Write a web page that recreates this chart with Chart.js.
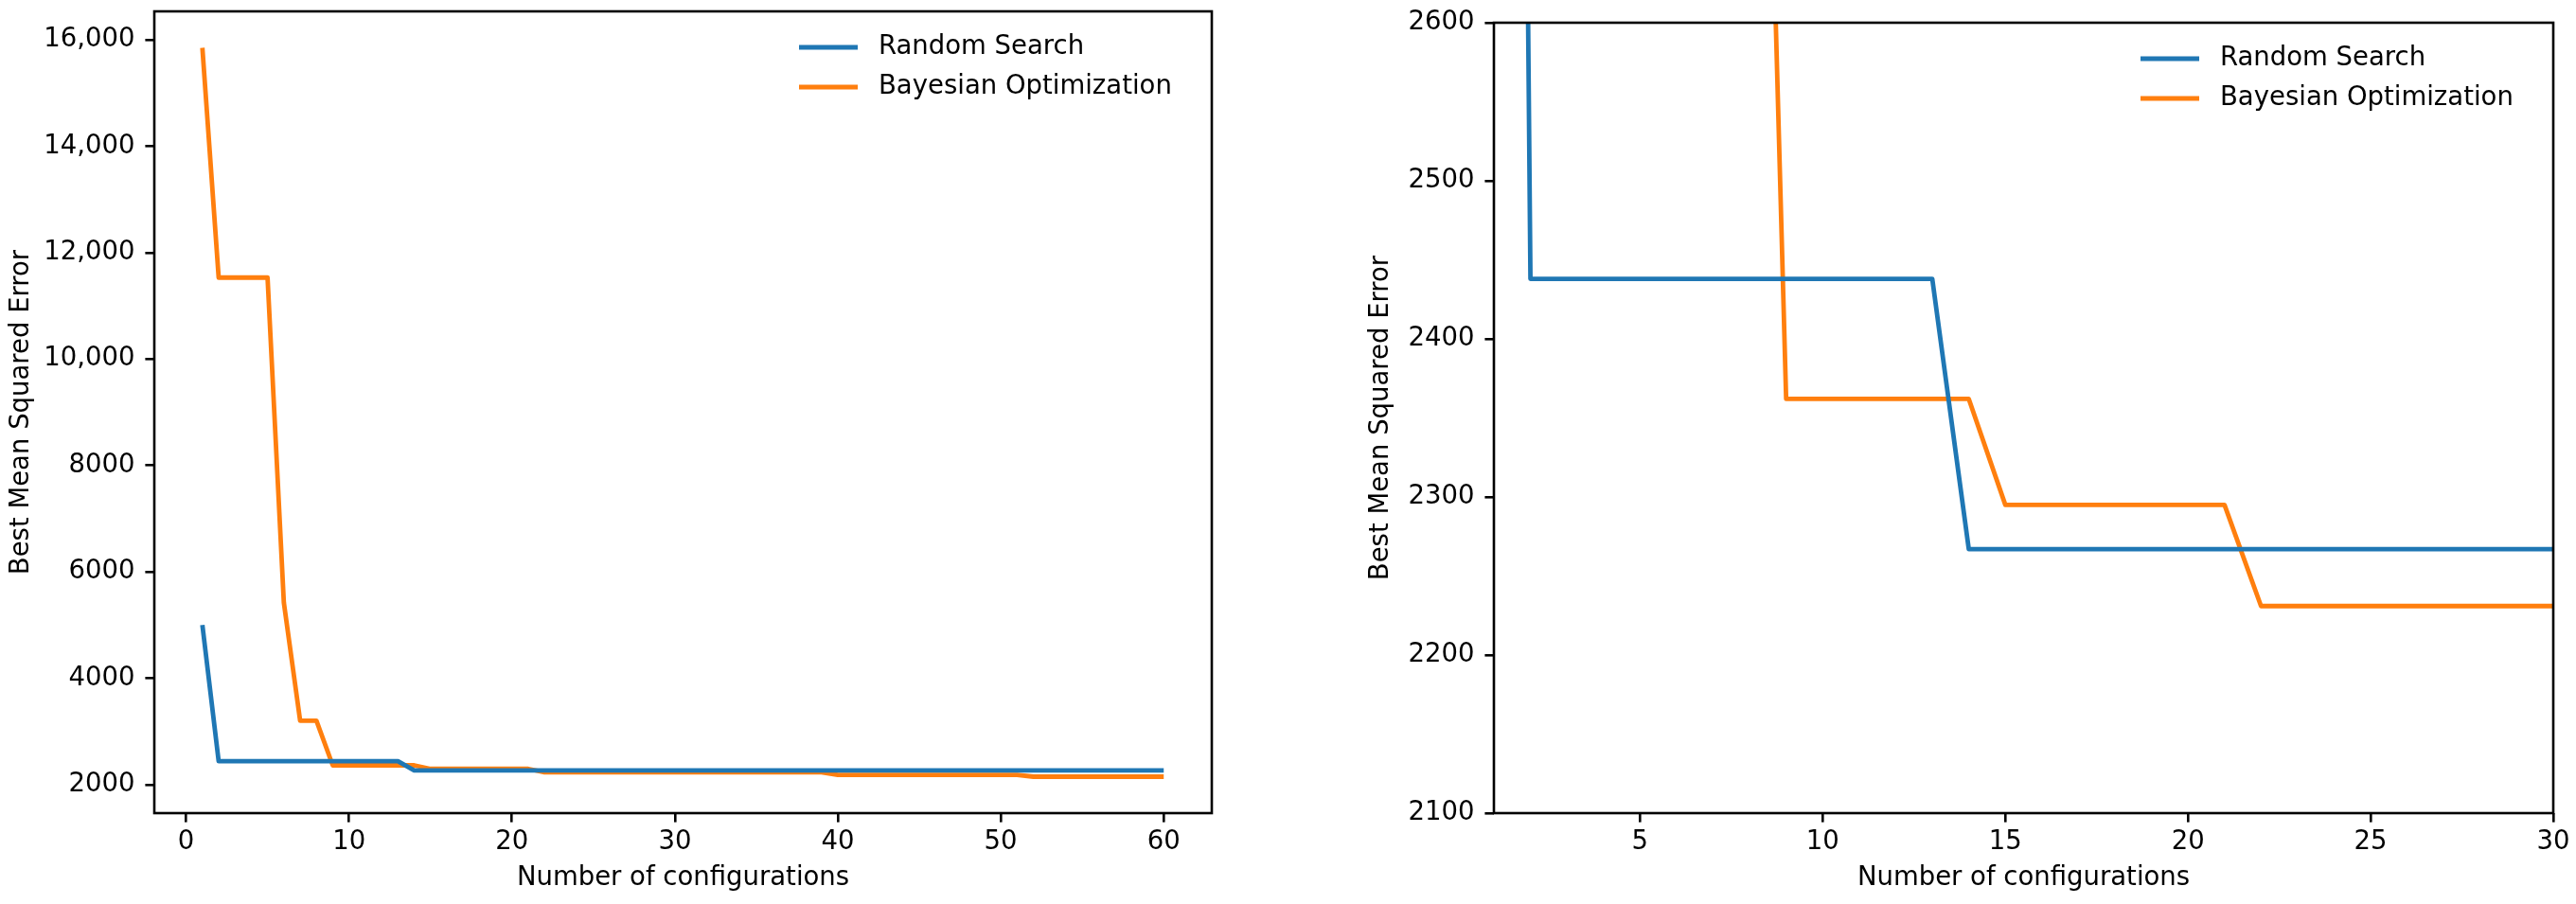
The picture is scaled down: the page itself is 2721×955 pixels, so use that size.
<!DOCTYPE html>
<html>
<head>
<meta charset="utf-8">
<script src="https://cdn.jsdelivr.net/npm/chart.js@4/dist/chart.umd.min.js"></script>
<style>
  html, body { margin: 0; padding: 0; background: #ffffff; }
  body { width: 2721px; height: 955px; position: relative; overflow: hidden; }
  canvas { position: absolute; top: 0; }
  #c1 { left: 0px; }
  #c2 { left: 1360px; }
</style>
</head>
<body>
<canvas id="c1" width="1330" height="955"></canvas>
<canvas id="c2" width="1361" height="955"></canvas>
<script>
// ---- data ----
const configs = [1, 2, 3, 4, 5, 6, 7, 8, 9, 10,
  11, 12, 13, 14, 15, 16, 17, 18, 19, 20,
  21, 22, 23, 24, 25, 26, 27, 28, 29, 30,
  31, 32, 33, 34, 35, 36, 37, 38, 39, 40,
  41, 42, 43, 44, 45, 46, 47, 48, 49, 50,
  51, 52, 53, 54, 55, 56, 57, 58, 59, 60];

const randomSearch = [5000, 2438, 2438, 2438, 2438, 2438, 2438, 2438, 2438, 2438,
  2438, 2438, 2438, 2267, 2267, 2267, 2267, 2267, 2267, 2267,
  2267, 2267, 2267, 2267, 2267, 2267, 2267, 2267, 2267, 2267,
  2267, 2267, 2267, 2267, 2267, 2267, 2267, 2267, 2267, 2267,
  2267, 2267, 2267, 2267, 2267, 2267, 2267, 2267, 2267, 2267,
  2267, 2267, 2267, 2267, 2267, 2267, 2267, 2267, 2267, 2267];

const bayesianOpt = [15850, 11530, 11530, 11530, 11530, 5420, 3200, 3200, 2362, 2362,
  2362, 2362, 2362, 2362, 2295, 2295, 2295, 2295, 2295, 2295,
  2295, 2231, 2231, 2231, 2231, 2231, 2231, 2231, 2231, 2231,
  2231, 2231, 2231, 2231, 2231, 2231, 2231, 2231, 2231, 2183,
  2183, 2183, 2183, 2183, 2183, 2183, 2183, 2183, 2183, 2183,
  2183, 2148, 2148, 2148, 2148, 2148, 2148, 2148, 2148, 2148];

const seriesLabels = ['Random Search', 'Bayesian Optimization'];
const seriesColors = ['#1f77b4', '#ff7f0e'];

const xTitle = 'Number of configurations';
const yTitle = 'Best Mean Squared Error';

const leftXTicks = [0, 10, 20, 30, 40, 50, 60];
const leftYTicks = [2000, 4000, 6000, 8000, 10000, 12000, 14000, 16000];
const rightXTicks = [5, 10, 15, 20, 25, 30];
const rightYTicks = [2100, 2200, 2300, 2400, 2500, 2600];

// ---- style ----
const FONT = 'DejaVu Sans';
const FS = 27.5;
const LINE_W = 4.8;
const SPINE_W = 2.6;
const TICK_LEN = 9.6;

Chart.defaults.font.family = FONT;
Chart.defaults.font.size = FS;
Chart.defaults.color = '#000000';

function pts(ys) { return configs.map((x, i) => ({ x: x, y: ys[i] })); }

function fmtY(v) {
  return v >= 10000 ? v.toLocaleString('en-US') : String(v);
}

const framePlugin = {
  id: 'frame',
  afterDraw(chart) {
    const a = chart.chartArea, ctx = chart.ctx;
    ctx.save();
    ctx.strokeStyle = '#000';
    ctx.lineWidth = SPINE_W;
    ctx.lineJoin = 'miter';
    ctx.strokeRect(a.left, a.top, a.right - a.left, a.bottom - a.top);
    ctx.restore();
  }
};

const legendPlugin = {
  id: 'innerLegend',
  afterDatasetsDraw(chart) {
    const a = chart.chartArea, ctx = chart.ctx;
    const x0 = a.right - 436;
    ctx.save();
    chart.data.datasets.forEach((ds, i) => {
      const y = a.top + 38 + i * 42;
      ctx.strokeStyle = ds.borderColor;
      ctx.lineWidth = LINE_W;
      ctx.lineCap = 'butt';
      ctx.beginPath();
      ctx.moveTo(x0, y);
      ctx.lineTo(x0 + 62, y);
      ctx.stroke();
      ctx.fillStyle = '#000';
      ctx.font = FS + 'px "' + FONT + '"';
      ctx.textAlign = 'left';
      ctx.textBaseline = 'middle';
      ctx.fillText(ds.label, x0 + 84, y);
    });
    ctx.restore();
  }
};

function makeChart(id, cfg) {
  const ctx = document.getElementById(id).getContext('2d');
  return new Chart(ctx, {
    type: 'line',
    data: {
      datasets: [
        { label: seriesLabels[0], data: pts(randomSearch), borderColor: seriesColors[0],
          backgroundColor: seriesColors[0], borderWidth: LINE_W, pointRadius: 0,
          tension: 0, fill: false, clip: 0, borderJoinStyle: 'round', borderCapStyle: 'butt' },
        { label: seriesLabels[1], data: pts(bayesianOpt), borderColor: seriesColors[1],
          backgroundColor: seriesColors[1], borderWidth: LINE_W, pointRadius: 0,
          tension: 0, fill: false, clip: 0, borderJoinStyle: 'round', borderCapStyle: 'butt' }
      ]
    },
    options: {
      responsive: false,
      animation: false,
      devicePixelRatio: 1,
      layout: { padding: { left: 0, top: cfg.padTop, right: cfg.padRight, bottom: 0 } },
      plugins: { legend: { display: false }, tooltip: { enabled: false } },
      scales: {
        x: {
          type: 'linear',
          min: cfg.xMin, max: cfg.xMax,
          afterBuildTicks: (s) => { s.ticks = cfg.xTicks.map(v => ({ value: v })); },
          afterFit: (s) => { s.height = 96; s.paddingLeft = 0; s.paddingRight = 0; },
          ticks: { padding: 4.4, maxRotation: 0, autoSkip: false, color: '#000',
                   font: { size: FS, family: FONT } },
          grid: { display: true, drawOnChartArea: false, drawTicks: true,
                  tickLength: TICK_LEN, color: '#000', lineWidth: SPINE_W, tickWidth: SPINE_W },
          border: { display: false },
          title: { display: true, text: xTitle, color: '#000',
                   font: { size: FS, family: FONT }, padding: { top: 0, bottom: 11 } }
        },
        y: {
          type: 'linear',
          min: cfg.yMin, max: cfg.yMax,
          afterBuildTicks: (s) => { s.ticks = cfg.yTicks.map(v => ({ value: v })); },
          afterFit: (s) => { s.width = cfg.yWidth; s.paddingTop = 0; s.paddingBottom = 0; },
          ticks: { padding: 11, autoSkip: false, color: '#000',
                   font: { size: FS, family: FONT }, callback: (v) => fmtY(v) },
          grid: { display: true, drawOnChartArea: false, drawTicks: true,
                  tickLength: TICK_LEN, color: '#000', lineWidth: SPINE_W, tickWidth: SPINE_W },
          border: { display: false },
          title: { display: true, text: yTitle, color: '#000',
                   font: { size: FS, family: FONT }, padding: { top: cfg.yTitlePad, bottom: 0 } }
        }
      }
    },
    plugins: [framePlugin, legendPlugin]
  });
}

makeChart('c1', {
  xMin: -1.95, xMax: 62.95, yMin: 1463, yMax: 16535,
  xTicks: leftXTicks, yTicks: leftYTicks,
  padTop: 12, padRight: 50, yWidth: 163, yTitlePad: 6
});

makeChart('c2', {
  xMin: 1, xMax: 30, yMin: 2100, yMax: 2600,
  xTicks: rightXTicks, yTicks: rightYTicks,
  padTop: 24, padRight: 24, yWidth: 218, yTitlePad: 82
});
</script>
</body>
</html>
